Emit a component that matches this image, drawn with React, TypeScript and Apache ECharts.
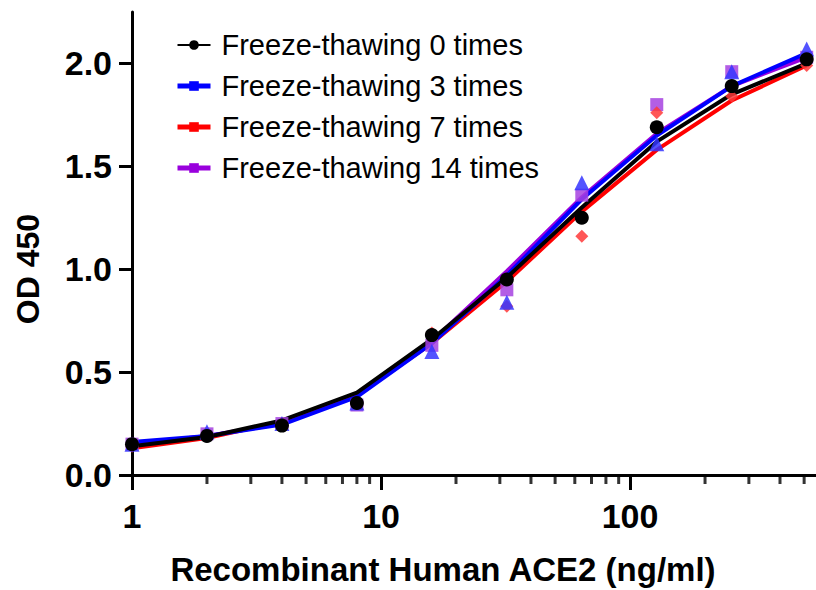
import React, { useEffect, useRef } from "react";
import * as echarts from "echarts";

const concentrations = [1, 2, 4, 8, 16, 32, 64, 128, 256, 512];
const seriesNames = [
  "Freeze-thawing 0 times",
  "Freeze-thawing 3 times",
  "Freeze-thawing 7 times",
  "Freeze-thawing 14 times",
];
// measured points
const points0 = [0.15, 0.19, 0.24, 0.35, 0.68, 0.95, 1.25, 1.69, 1.89, 2.02];
const points3 = [0.15, 0.21, 0.25, 0.35, 0.6, 0.84, 1.42, 1.61, 1.96, 2.07];
const points7 = [0.14, 0.19, 0.25, 0.35, 0.69, 0.82, 1.16, 1.76, 1.84, 1.99];
const points14 = [0.15, 0.2, 0.25, 0.34, 0.63, 0.9, 1.36, 1.8, 1.96, 2.03];
// fitted curve values at each concentration
const fit0 = [0.14, 0.185, 0.265, 0.4, 0.66, 0.96, 1.3, 1.62, 1.85, 2.0];
const fit3 = [0.16, 0.19, 0.245, 0.38, 0.64, 0.97, 1.34, 1.65, 1.89, 2.05];
const fit7 = [0.13, 0.18, 0.26, 0.39, 0.64, 0.94, 1.28, 1.58, 1.82, 1.99];
const fit14 = [0.15, 0.19, 0.25, 0.385, 0.65, 0.99, 1.35, 1.66, 1.89, 2.03];

const xTickValues = [1, 10, 100];
const xMinorTickValues = [2, 3, 4, 5, 6, 7, 8, 9, 20, 30, 40, 50, 60, 70, 80, 90, 200, 300, 400, 500];
const yTickValues = [0, 0.5, 1.0, 1.5, 2.0];

const FONT = "'Liberation Sans', Arial, sans-serif";

const lineColors = ["#000000", "#0000ff", "#ff0000", "#9900dd"];
const markerColors = ["#000000", "#3535ff", "#ff3838", "#a642e0"];
const markerSymbols = ["circle", "triangle", "diamond", "rect"];
const markerSizes = [14, 15, 13, 13];
const legendSymbols = ["circle", "rect", "rect", "rect"];

export default function App() {
  const ref = useRef<HTMLDivElement>(null);
  useEffect(() => {
    if (!ref.current) return;
    const chart = echarts.init(ref.current, undefined, { renderer: "svg" });
    const fits = [fit0, fit3, fit7, fit14];
    const pts = [points0, points3, points7, points14];
    const pair = (ys: number[]) => concentrations.map((x, i) => [x, ys[i]]);

    const curveOrder = [2, 3, 1, 0];
    const pointOrder = [3, 2, 1, 0];

    const curveSeries = curveOrder.map((k) => ({
      type: "line",
      name: seriesNames[k],
      data: pair(fits[k]),
      showSymbol: false,
      symbol: legendSymbols[k],
      smooth: false,
      lineStyle: { color: lineColors[k], width: 4 },
      itemStyle: { color: lineColors[k] },
      z: 3,
    }));
    const pointSeries = pointOrder.map((k) => ({
      type: "scatter",
      name: seriesNames[k] + " data",
      data: pair(pts[k]),
      symbol: markerSymbols[k],
      symbolSize: markerSizes[k],
      itemStyle: { color: markerColors[k], opacity: k === 0 ? 1 : 0.85 },
      clip: false,
      z: 4,
    }));

    chart.setOption({
      animation: false,
      backgroundColor: "#ffffff",
      grid: { left: 132, right: 0, top: 12, bottom: 115 },
      legend: {
        left: 170,
        top: 25,
        orient: "vertical",
        itemWidth: 33,
        itemHeight: 12,
        itemGap: 11,
        selectedMode: false,
        textStyle: {
          fontFamily: FONT,
          fontSize: 29,
          color: "#000",
          lineHeight: 30,
          padding: [0, 0, 0, 6],
        },
        data: seriesNames.map((n, k) => ({
          name: n,
          lineStyle: { width: k === 0 ? 2 : 5, color: lineColors[k] },
          itemStyle: { color: lineColors[k] },
        })),
      },
      xAxis: {
        type: "log",
        logBase: 10,
        min: 1,
        max: 558,
        axisLine: { lineStyle: { color: "#000", width: 3 } },
        axisTick: { show: true, length: 15, lineStyle: { width: 3, color: "#000" }, customValues: xTickValues },
        axisLabel: {
          customValues: xTickValues,
          fontFamily: FONT,
          fontSize: 34,
          fontWeight: "bold",
          color: "#000",
          margin: 24,
        },
        splitLine: { show: false },
        minorTick: { show: false },
      },
      yAxis: {
        type: "value",
        min: 0,
        max: 2.25,
        interval: 0.5,
        axisLine: { show: true, lineStyle: { color: "#000", width: 3 } },
        axisTick: { show: true, length: 13, lineStyle: { width: 3, color: "#000" }, customValues: yTickValues },
        axisLabel: {
          customValues: yTickValues,
          formatter: (v: number) => v.toFixed(1),
          fontFamily: FONT,
          fontSize: 34,
          fontWeight: "bold",
          color: "#000",
          margin: 20,
        },
        splitLine: { show: false },
      },
      graphic: [
        {
          type: "text",
          x: 443,
          y: 569,
          style: {
            text: "Recombinant Human ACE2 (ng/ml)",
            font: `bold 33px ${FONT}`,
            fill: "#000",
            align: "center",
            verticalAlign: "middle",
          },
        },
        {
          type: "text",
          x: 28,
          y: 269,
          rotation: Math.PI / 2,
          style: {
            text: "OD 450",
            font: `bold 32px ${FONT}`,
            fill: "#000",
            align: "center",
            verticalAlign: "middle",
          },
        },
      ],
      series: [
        {
          type: "scatter",
          name: "minor ticks",
          data: xMinorTickValues.map((v) => [v, 0]),
          symbol: "rect",
          symbolSize: [3, 9],
          symbolOffset: [0, 4.5],
          itemStyle: { color: "#000" },
          silent: true,
          clip: false,
          z: 1,
        },
        ...curveSeries,
        ...pointSeries,
      ],
    });
    return () => chart.dispose();
  }, []);
  return (
    <div
      ref={ref}
      style={{ position: "absolute", left: 0, top: 0, width: 816, height: 590 }}
    />
  );
}
